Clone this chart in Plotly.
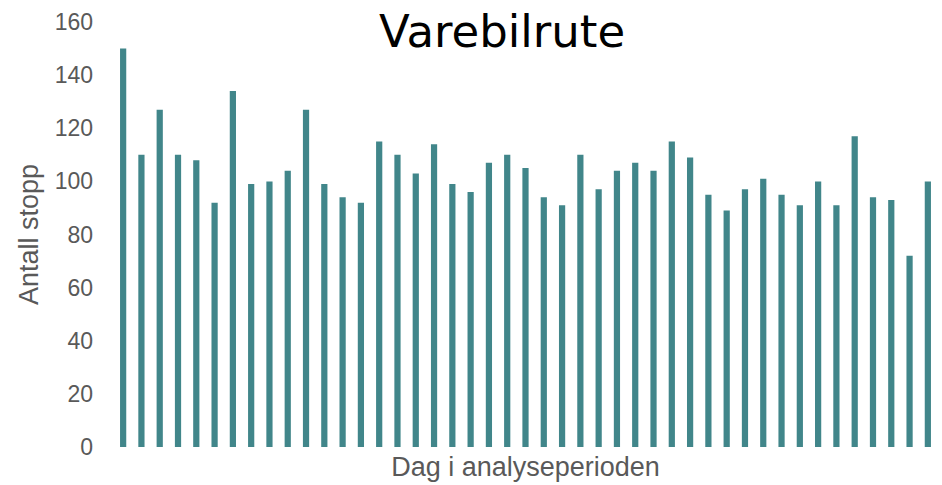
import plotly.graph_objects as go

days = list(range(1, 46))
stopp = [150, 110, 127, 110, 108, 92, 134, 99, 100, 104, 127, 99, 94, 92, 115,
         110, 103, 114, 99, 96, 107, 110, 105, 94, 91, 110, 97, 104, 107, 104,
         115, 109, 95, 89, 97, 101, 95, 91, 100, 91, 117, 94, 93, 72, 100]
y_ticks = [0, 20, 40, 60, 80, 100, 120, 140, 160]

fig = go.Figure(go.Bar(x=[str(d) for d in days], y=stopp, marker_color="#41868A",
                       marker_line_width=0))

fig.update_layout(
    width=942, height=485,
    margin=dict(l=114, r=5, t=22, b=38, autoexpand=False),
    paper_bgcolor="white", plot_bgcolor="white",
    bargap=0.66,
    showlegend=False,
    title=dict(text="Varebilrute", x=0.533, xref="container", xanchor="center",
               y=1 - 31 / 485, yref="container", yanchor="middle",
               font=dict(family="DejaVu Sans", size=45, color="black")),
    font=dict(family="Liberation Sans", color="#595959"),
)
fig.update_xaxes(type="category", showticklabels=False, showgrid=False, zeroline=False,
                 showline=False, ticks="", automargin=False,
                 title=dict(text="Dag i analyseperioden", font=dict(size=27, color="#595959"),
                            standoff=10))
fig.update_yaxes(range=[0, 160], tickvals=y_ticks, showgrid=False, zeroline=False,
                 showline=False, ticks="", ticklabelstandoff=20, automargin=False,
                 tickfont=dict(size=23, color="#595959"),
                 title=dict(text="Antall stopp", font=dict(size=27, color="#595959"),
                            standoff=8))

fig.write_html("out.html", config={"displayModeBar": False},
               post_script="document.body.style.margin='0';document.body.style.overflow='hidden';")
